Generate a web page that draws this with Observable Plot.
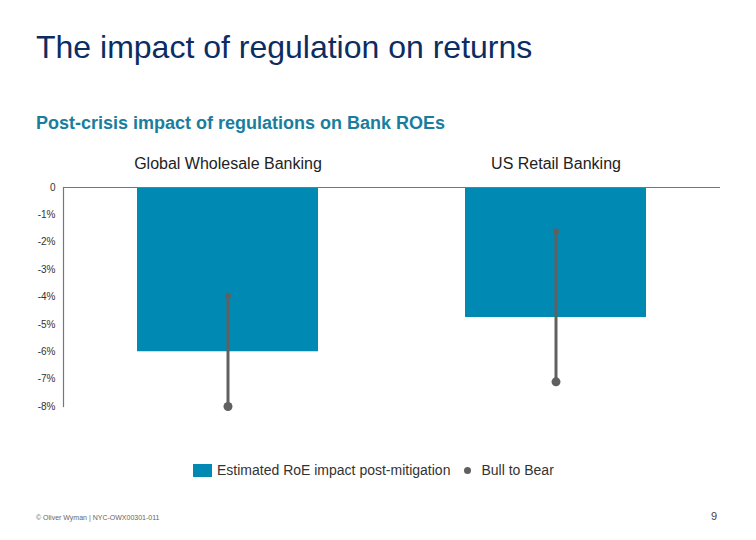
<!DOCTYPE html>
<html>
<head>
<meta charset="utf-8">
<script src="https://cdn.jsdelivr.net/npm/d3@7"></script>
<script src="https://cdn.jsdelivr.net/npm/@observablehq/plot@0.6"></script>
<style>
  html, body { margin: 0; padding: 0; background: #fff; }
  #page { position: relative; width: 756px; height: 540px; font-family: "Liberation Sans", Arial, sans-serif; overflow: hidden; }
  #title { position: absolute; left: 36px; top: 31px; font-size: 32px; line-height: 1; color: #0c2d62; white-space: nowrap; }
  #subtitle { position: absolute; left: 36px; top: 114px; font-size: 18px; line-height: 1; font-weight: bold; color: #1a7d9e; white-space: nowrap; }
  #chart { position: absolute; left: 0; top: 140px; }
  #legend { position: absolute; left: 193px; top: 462px; font-size: 14px; line-height: 16px; color: #333; display: flex; align-items: center; white-space: nowrap; }
  .sw { display: inline-block; width: 19px; height: 13px; background: #0089b2; margin-right: 5px; }
  .dot { display: inline-block; width: 7px; height: 7px; border-radius: 50%; background: #606060; margin-left: 14px; margin-right: 10px; }
  #footer { position: absolute; left: 36px; top: 514px; font-size: 7px; color: #666; white-space: nowrap; }
  #pagenum { position: absolute; left: 711px; top: 510px; font-size: 11px; color: #444; }
</style>
</head>
<body>
<div id="page">
  <div id="title">The impact of regulation on returns</div>
  <div id="subtitle">Post-crisis impact of regulations on Bank ROEs</div>
  <div id="chart"></div>
  <div id="legend"><span class="sw"></span>Estimated RoE impact post-mitigation<span class="dot"></span>Bull to Bear</div>
  <div id="footer">© Oliver Wyman | NYC-OWX00301-011</div>
  <div id="pagenum">9</div>
</div>
<script>
const categories = ["Global Wholesale Banking", "US Retail Banking"];
const roeImpact = [-6.0, -4.75];
const bullCase = [-3.95, -1.6];
const bearCase = [-8.0, -7.1];
const yTicks = [0, -1, -2, -3, -4, -5, -6, -7, -8];
const yTickLabels = ["0", "-1%", "-2%", "-3%", "-4%", "-5%", "-6%", "-7%", "-8%"];

const rows = categories.map((c, i) => ({cat: c, roe: roeImpact[i], bull: bullCase[i], bear: bearCase[i]}));

const chart = Plot.plot({
  width: 756,
  height: 290,
  marginLeft: 63,
  marginRight: 36,
  marginTop: 47,
  marginBottom: 24,
  style: {fontFamily: "Liberation Sans, Arial, sans-serif", color: "#333", background: "#fff"},
  x: {domain: categories, paddingInner: 0.447, paddingOuter: 0.2235, label: null},
  y: {domain: [-8, 0], label: null},
  marks: [
    Plot.barY(rows, {x: "cat", y: "roe", fill: "#0089b2"}),
    Plot.ruleY([0], {stroke: "#777", strokeWidth: 1.2}),
    Plot.frame({anchor: "left", stroke: "#777", strokeWidth: 1.2}),
    Plot.ruleX(rows, {x: "cat", y1: "bull", y2: "bear", stroke: "#606060", strokeWidth: 3}),
    Plot.dot(rows, {x: "cat", y: "bull", r: 3, fill: "#606060"}),
    Plot.dot(rows, {x: "cat", y: "bear", r: 4.5, fill: "#606060"}),
    Plot.axisY(yTicks, {tickSize: 0, tickPadding: 8, fontSize: 10, fill: "#333", tickFormat: (d) => yTickLabels[yTicks.indexOf(d)]}),
    Plot.axisX({anchor: "top", tickSize: 0, tickPadding: 19, fontSize: 16, fill: "#222"})
  ]
});
document.getElementById("chart").appendChild(chart);
</script>
</body>
</html>
